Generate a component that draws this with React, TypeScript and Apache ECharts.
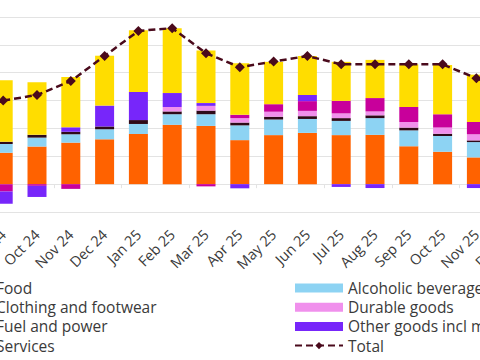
import React, { useEffect, useRef } from "react";
import * as echarts from "echarts";

const categories = ["Sep 24", "Oct 24", "Nov 24", "Dec 24", "Jan 25", "Feb 25", "Mar 25", "Apr 25", "May 25", "Jun 25", "Jul 25", "Aug 25", "Sep 25", "Oct 25", "Nov 25", "Dec 25"];
const food = [1.13, 1.35, 1.49, 1.61, 1.8, 2.13, 2.09, 1.58, 1.76, 1.84, 1.76, 1.77, 1.36, 1.16, 0.96, 0.9];
const alcohol = [0.31, 0.32, 0.3, 0.36, 0.36, 0.38, 0.42, 0.53, 0.56, 0.5, 0.51, 0.6, 0.57, 0.57, 0.55, 0.52];
const clothing = [0.08, 0.1, 0.09, 0.1, 0.14, 0.1, 0.13, 0.1, 0.1, 0.1, 0.1, 0.1, 0.1, 0.08, 0.06, 0.06];
const durable = [0, 0, 0, 0, 0, 0.16, 0.17, 0.16, 0.18, 0.19, 0.17, 0.14, 0.2, 0.22, 0.22, 0.2];
const fuelPower = [-0.26, -0.06, -0.17, 0, 0, 0, -0.08, 0.12, 0.27, 0.35, 0.45, 0.48, 0.54, 0.48, 0.44, 0.4];
const otherGoods = [-0.44, -0.4, 0.16, 0.75, 1.01, 0.5, 0.1, -0.15, 0, 0.22, -0.1, -0.14, 0, 0, -0.14, -0.1];
const services = [2.21, 1.89, 1.81, 1.79, 2.21, 2.33, 1.89, 1.85, 1.52, 1.4, 1.4, 1.37, 1.53, 1.77, 1.7, 1.35];
const total = [3.0, 3.2, 3.7, 4.6, 5.5, 5.6, 4.7, 4.2, 4.4, 4.6, 4.3, 4.3, 4.3, 4.3, 3.8, 3.3];

const FONT = "'Open Sans', sans-serif";
const TEXT = "#3a3a3a";

export default function App() {
  const ref = useRef<HTMLDivElement>(null);
  useEffect(() => {
    if (!ref.current) return;
    const chart = echarts.init(ref.current, undefined, { renderer: "svg" });
    const bar = (name: string, data: number[], color: string) => ({
      name,
      type: "bar",
      stack: "cpi",
      data,
      barWidth: 19,
      itemStyle: { color },
      xAxisIndex: 0,
    });
    const legendBase = {
      orient: "vertical",
      top: 280,
      height: 120,
      itemWidth: 48,
      itemHeight: 9,
      itemGap: 3.2,
      padding: 0,
      textStyle: { fontSize: 15.5, color: TEXT, fontFamily: FONT, lineHeight: 14 },
    };
    chart.setOption({
      animation: false,
      textStyle: { fontFamily: FONT },
      grid: { left: 56.3, right: 42.9, top: 17, bottom: 148, containLabel: false },
      xAxis: [
        {
          type: "category",
          data: categories,
          position: "bottom",
          axisLine: { show: false, onZero: false },
          axisTick: { show: false },
          axisLabel: { rotate: 45, fontSize: 14.5, color: TEXT, margin: 20, fontFamily: FONT, interval: 0 },
        },
        {
          type: "category",
          data: categories,
          position: "bottom",
          offset: 0,
          axisLine: { show: true, onZero: true, lineStyle: { color: "#e3e3e3" } },
          axisTick: { show: true, length: 4, lineStyle: { color: "#e3e3e3" } },
          axisLabel: { show: false },
        },
      ],
      yAxis: {
        type: "value",
        min: -1,
        max: 6,
        interval: 1,
        axisLabel: { show: false },
        axisLine: { show: false },
        axisTick: { show: false },
        splitLine: { lineStyle: { color: "#e3e3e3", width: 1 } },
      },
      legend: [
        {
          ...legendBase,
          left: 13,
          data: [
            { name: "Food", icon: "rect" },
            { name: "Clothing and footwear", icon: "rect" },
            { name: "Fuel and power", icon: "rect" },
            { name: "Services", icon: "rect" },
          ],
        },
        {
          ...legendBase,
          left: 364,
          data: [
            { name: "Alcoholic beverages and tobacco", icon: "rect" },
            { name: "Durable goods", icon: "rect" },
            { name: "Other goods incl motor fuel", icon: "rect" },
            { name: "Total" },
          ],
        },
      ],
      series: [
        bar("Food", food, "#FF6200"),
        bar("Alcoholic beverages and tobacco", alcohol, "#8DD3F3"),
        bar("Clothing and footwear", clothing, "#2E0A18"),
        bar("Durable goods", durable, "#F090EC"),
        bar("Fuel and power", fuelPower, "#C8009B"),
        bar("Other goods incl motor fuel", otherGoods, "#7726FA"),
        bar("Services", services, "#FFDD00"),
        {
          name: "Total",
          type: "line",
          data: total,
          z: 10,
          symbol: "diamond",
          symbolSize: 10,
          itemStyle: { color: "#4A0A1C" },
          lineStyle: { color: "#4A0A1C", width: 2.5, type: [7, 4] },
        },
      ],
    });
    return () => chart.dispose();
  }, []);
  return (
    <div style={{ position: "absolute", left: 0, top: 0, width: 480, height: 360, overflow: "hidden", background: "#fff" }}>
      <div ref={ref} style={{ position: "absolute", left: -70, top: 0, width: 640, height: 360 }} />
    </div>
  );
}
